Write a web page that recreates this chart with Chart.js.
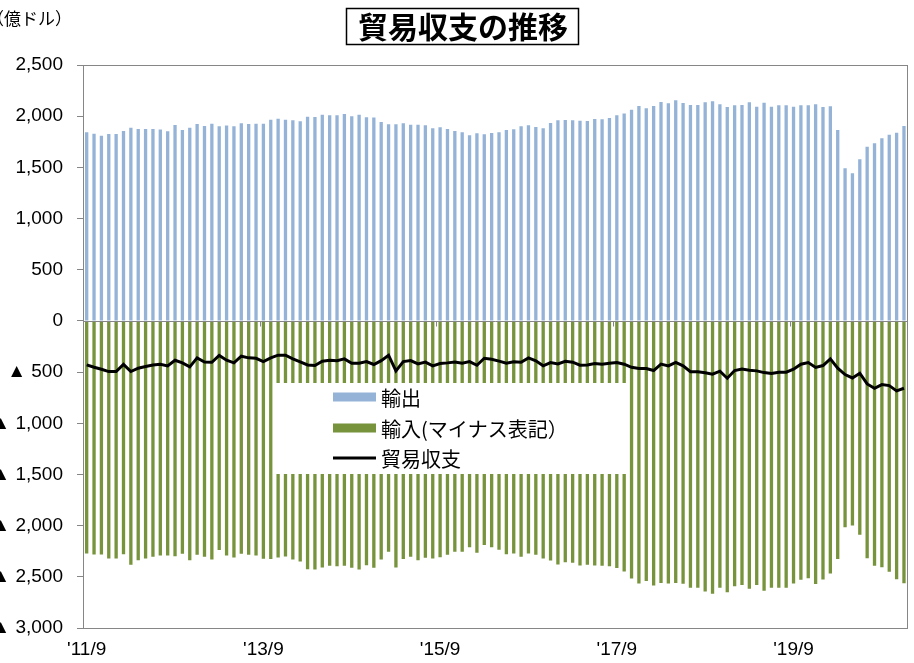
<!DOCTYPE html>
<html><head><meta charset="utf-8">
<script src="https://cdn.jsdelivr.net/npm/chart.js@4.4.0/dist/chart.umd.min.js"></script>
<style>html,body{margin:0;padding:0;background:#fff;overflow:hidden}#wrap{position:relative;width:914px;height:663px}</style>
</head><body><div id="wrap"><canvas id="c"></canvas></div>
<script>
// ---- data ----
const startYear = 2011, startMonth = 9, monthCount = 112;
const categories = [];
for (let i = 0; i < monthCount; i++) {
  const k = startMonth - 1 + i;
  categories.push((startYear + Math.floor(k / 12)) + '/' + (k % 12 + 1));
}
const tickLabels = ["'11/9", "'13/9", "'15/9", "'17/9", "'19/9"];
const tickEvery = 24;
const yTicks = [2500, 2000, 1500, 1000, 500, 0, -500, -1000, -1500, -2000, -2500, -3000];

const exportsData = [
  1843,1829,1810,1826,1826,1855,1888,1875,1875,1875,1869,1852,1914,1865,1888,1924,1904,1927,1901,1908,
  1901,1930,1924,1927,1927,1966,1976,1966,1960,1950,1995,1992,2015,2008,2008,2022,1999,2015,1989,1986,
  1943,1921,1921,1930,1917,1917,1911,1882,1891,1875,1855,1843,1813,1833,1823,1836,1843,1865,1872,1901,
  1911,1895,1882,1934,1960,1963,1960,1956,1953,1973,1969,1982,2008,2025,2064,2100,2077,2100,2139,2126,
  2155,2129,2110,2110,2136,2145,2116,2090,2106,2110,2136,2093,2132,2093,2106,2106,2093,2106,2106,2116,
  2090,2097,1865,1491,1442,1579,1702,1735,1784,1819,1839,1904
];
const importsData = [
  -2272,-2282,-2282,-2321,-2321,-2279,-2383,-2337,-2321,-2305,-2292,-2292,-2298,-2275,-2337,-2285,-2305,-2331,-2239,-2292,
  -2311,-2275,-2285,-2292,-2324,-2327,-2311,-2301,-2331,-2350,-2425,-2428,-2409,-2393,-2396,-2393,-2412,-2428,-2386,-2412,
  -2331,-2256,-2409,-2327,-2305,-2337,-2314,-2321,-2308,-2285,-2256,-2256,-2210,-2266,-2188,-2210,-2236,-2279,-2272,-2305,
  -2272,-2285,-2321,-2341,-2380,-2357,-2363,-2389,-2383,-2389,-2393,-2396,-2415,-2448,-2517,-2565,-2542,-2585,-2561,-2565,
  -2561,-2568,-2607,-2607,-2643,-2666,-2607,-2650,-2591,-2581,-2617,-2581,-2637,-2607,-2607,-2607,-2565,-2529,-2513,-2571,
  -2526,-2468,-2327,-2015,-1999,-2090,-2318,-2393,-2406,-2451,-2523,-2562
];
const balanceData = [
  -429,-453,-472,-495,-495,-424,-495,-462,-446,-430,-423,-440,-384,-410,-449,-361,-401,-404,-338,-384,
  -410,-345,-361,-365,-397,-361,-335,-335,-371,-400,-430,-436,-394,-385,-388,-371,-413,-413,-397,-426,
  -388,-335,-488,-397,-388,-420,-403,-439,-417,-410,-401,-413,-397,-433,-365,-374,-393,-414,-400,-404,
  -361,-390,-439,-407,-420,-394,-403,-433,-430,-416,-424,-414,-407,-423,-453,-465,-465,-485,-422,-439,
  -406,-439,-497,-497,-507,-521,-491,-560,-485,-471,-481,-488,-505,-514,-501,-501,-472,-423,-407,-455,
  -436,-371,-462,-524,-557,-511,-616,-658,-622,-632,-684,-658
];

const seriesNames = ['輸出', '輸入(マイナス表記）', '貿易収支'];
const titleText = '貿易収支の推移';
const unitText = '（億ドル）';

// ---- styles ----
const cBlue = '#95B3D7', cGreen = '#77933C', cAxis = '#868686';
const numFont = '"Liberation Sans", Arial, sans-serif';
const jpFont = '"Noto Sans CJK JP", sans-serif';

const fmt = v => v >= 0 ? v.toLocaleString('en-US') : '▲ ' + (-v).toLocaleString('en-US');

const deco = {
  id: 'deco',
  afterDatasetsDraw(chart) {
    const { ctx, chartArea: a, scales: { x, y } } = chart;
    ctx.save();
    const y0 = Math.round(y.getPixelForValue(0)) + 0.5;
    const step = x.getPixelForValue(1) - x.getPixelForValue(0);
    ctx.strokeStyle = cAxis; ctx.lineWidth = 1;
    ctx.beginPath(); ctx.moveTo(a.left, y0); ctx.lineTo(a.right, y0); ctx.stroke();
    for (let i = 0; i <= categories.length; i += tickEvery) {
      const px = Math.round(x.getPixelForValue(0) - step / 2 + i * step) + 0.5;
      ctx.beginPath(); ctx.moveTo(px, y0); ctx.lineTo(px, y0 + 5); ctx.stroke();
    }
    ctx.strokeRect(Math.round(a.left) + 0.5, Math.round(a.top) + 0.5, Math.round(a.right - a.left) - 1, Math.round(a.bottom - a.top));

    // legend box
    const lx = 276, ly = 383, lw = 350, lh = 91;
    ctx.fillStyle = '#fff'; ctx.fillRect(lx, ly, lw, lh);
    const rows = [397, 428, 458];
    const sx = 333, sw = 43;
    ctx.fillStyle = cBlue; ctx.fillRect(sx, rows[0] - 4.5, sw, 9);
    ctx.fillStyle = cGreen; ctx.fillRect(sx, rows[1] - 4.5, sw, 9);
    ctx.strokeStyle = '#000'; ctx.lineWidth = 3;
    ctx.beginPath(); ctx.moveTo(sx, rows[2]); ctx.lineTo(sx + sw, rows[2]); ctx.stroke();
    ctx.fillStyle = '#000'; ctx.font = '20px ' + jpFont; ctx.textBaseline = 'middle'; ctx.textAlign = 'left';
    seriesNames.forEach((n, i) => ctx.fillText(n, 381, rows[i] + 1));
    ctx.restore();
  },
  afterDraw(chart) {
    const { ctx } = chart;
    ctx.save();
    ctx.fillStyle = '#000';
    ctx.font = 'bold 30px ' + jpFont; ctx.textAlign = 'center'; ctx.textBaseline = 'middle';
    ctx.fillText(titleText, 463, 27);
    ctx.strokeStyle = '#000'; ctx.lineWidth = 1.5;
    ctx.strokeRect(346.5, 8.5, 232, 36);
    ctx.font = '17px ' + jpFont; ctx.textAlign = 'left';
    ctx.fillText(unitText, -13, 19);
    ctx.restore();
  }
};

new Chart(document.getElementById('c'), {
  type: 'bar',
  data: {
    labels: categories,
    datasets: [
      { type: 'line', label: seriesNames[2], data: balanceData, borderColor: '#000', backgroundColor: '#000',
        borderWidth: 3, pointRadius: 0, tension: 0, order: 0 },
      { label: seriesNames[0], data: exportsData, backgroundColor: cBlue, barPercentage: 0.45, categoryPercentage: 1, order: 1 },
      { label: seriesNames[1], data: importsData, backgroundColor: cGreen, barPercentage: 0.45, categoryPercentage: 1, order: 2 }
    ]
  },
  options: {
    responsive: true, maintainAspectRatio: false, animation: false,
    layout: { padding: { left: 0, top: 65, right: 5, bottom: 0 } },
    plugins: { legend: { display: false }, tooltip: { enabled: false }, title: { display: false } },
    scales: {
      x: {
        stacked: true,
        grid: { display: false, drawTicks: false },
        border: { display: true, color: cAxis },
        ticks: { autoSkip: false, maxRotation: 0, minRotation: 0, padding: 10, color: '#000',
          font: { family: numFont, size: 19 },
          callback: (v, i) => (i % tickEvery === 0 ? tickLabels[i / tickEvery] : '') },
        afterFit: s => { s.height = 35; }
      },
      y: {
        min: -3000, max: 2500,
        afterBuildTicks: s => { s.ticks = yTicks.map(v => ({ value: v })); },
        grid: { drawOnChartArea: false, tickLength: 6, color: cAxis },
        border: { color: cAxis },
        ticks: { padding: 14, color: '#000', font: { family: numFont, size: 19 }, callback: v => fmt(v) },
        afterFit: s => { s.width = 83; }
      }
    }
  },
  plugins: [deco]
});
</script></body></html>
